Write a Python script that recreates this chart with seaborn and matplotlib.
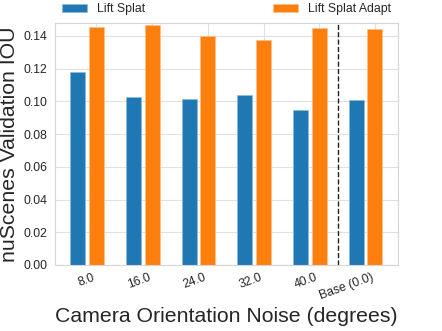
import numpy as np
import pandas as pd
import matplotlib
matplotlib.use("Agg")
import matplotlib.pyplot as plt
import seaborn as sns

# Noise levels (degrees) and validation IOU for each model
noise_labels = ["8.0", "16.0", "24.0", "32.0", "40.0", "Base (0.0)"]
lift_splat = [0.1179, 0.1029, 0.1013, 0.1038, 0.0946, 0.1007]
lift_splat_adapt = [0.1456, 0.1464, 0.1400, 0.1372, 0.1445, 0.1443]

sns.set_style("whitegrid", {"axes.edgecolor": "#d6d6d6", "grid.color": "#e0e0e0"})
plt.rcParams["font.family"] = ["Liberation Sans", "DejaVu Sans"]
plt.rcParams["text.color"] = "#262626"
plt.rcParams["xtick.color"] = "#262626"
plt.rcParams["ytick.color"] = "#262626"

blue = "#1f77b4"
orange = "#ff7f0e"

pos = np.arange(len(noise_labels), dtype=float)
offset = 1 / 3
width = 0.27

df_base = pd.DataFrame({"x": pos - offset, "iou": lift_splat})
df_adapt = pd.DataFrame({"x": pos, "iou": lift_splat_adapt})

fig = plt.figure(figsize=(4.42, 3.31), dpi=100)
ax = fig.add_axes([0.1244, 0.1994, 0.776, 0.732])

sns.barplot(data=df_base, x="x", y="iou", native_scale=True, width=width,
            color=blue, saturation=1, edgecolor="#8fbbd9", linewidth=0.5,
            label="Lift Splat", ax=ax)
sns.barplot(data=df_adapt, x="x", y="iou", native_scale=True, width=width,
            color=orange, saturation=1, edgecolor="#ffbf86", linewidth=0.5,
            label="Lift Splat Adapt", ax=ax)

# separator between noisy runs and the noise-free baseline
ax.axvline(pos[-1] - 0.5 - offset / 2, color="#222222", linestyle="--", linewidth=1.0)

ax.set_xlim(-0.745, 5.415)
ax.set_ylim(0, 0.148)
ax.set_yticks(np.arange(0, 0.141, 0.02))
ax.yaxis.set_major_formatter(matplotlib.ticker.FormatStrFormatter("%.2f"))
ax.set_xticks(pos)
ax.set_xticklabels(noise_labels, rotation=20, ha="right", fontsize=8.8)
ax.tick_params(axis="y", labelsize=8.8, pad=2)
ax.tick_params(axis="x", pad=1)

ax.set_xlabel("Camera Orientation Noise (degrees)", fontsize=15.3)
ax.set_ylabel("nuScenes Validation IOU", fontsize=15.3, labelpad=3)
ax.grid(True, axis="both")

ax.legend(bbox_to_anchor=(0, 1.0, 1, 0.1), loc="lower left", mode="expand",
          ncol=2, frameon=False, fontsize=8.8, handlelength=2.0,
          handleheight=0.65, borderaxespad=0.2)

fig.savefig("out.png", dpi=100)
